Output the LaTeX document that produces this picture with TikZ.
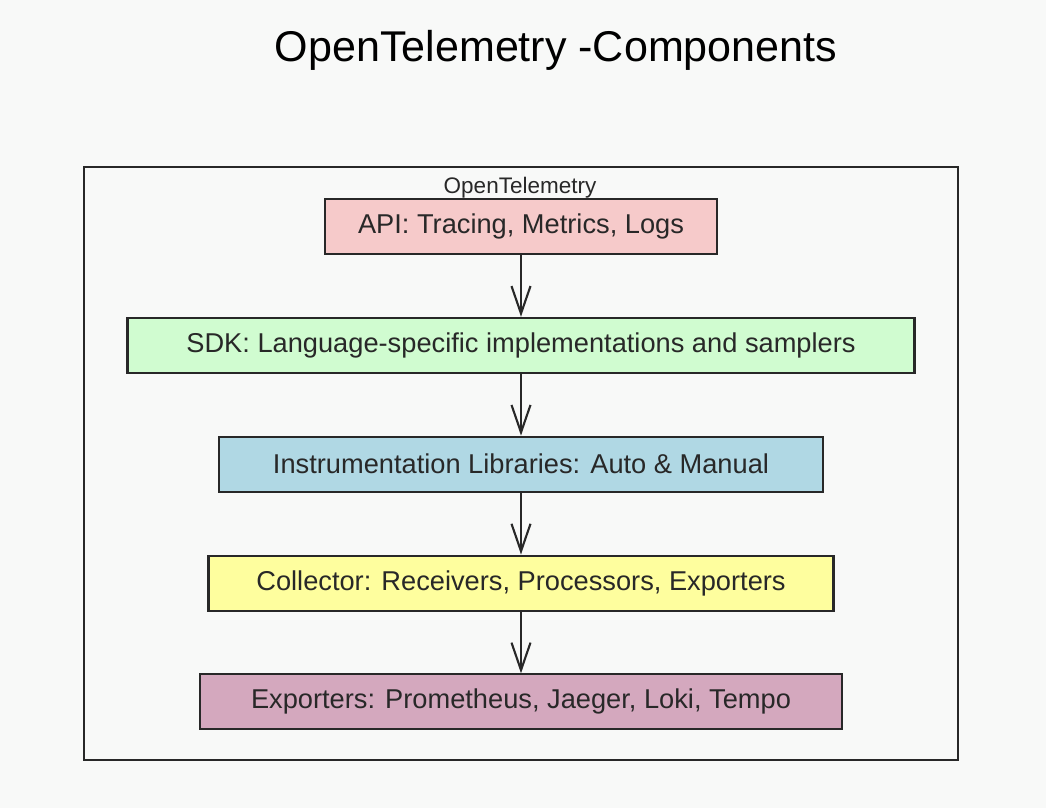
\documentclass[tikz,border=0pt]{standalone}
\usepackage{fontspec}
\setmainfont{Liberation Sans}
\usetikzlibrary{positioning,arrows.meta}

\definecolor{apipink}{RGB}{246,202,202}
\definecolor{sdkgreen}{RGB}{208,252,208}
\definecolor{instblue}{RGB}{176,216,228}
\definecolor{collyellow}{RGB}{254,254,158}
\definecolor{expmauve}{RGB}{212,168,190}
\definecolor{bgpaper}{RGB}{248,249,248}
\definecolor{inkgrey}{RGB}{40,40,40}

\begin{document}
\begin{tikzpicture}[node distance=1.235cm,
                    comp box/.style={draw=inkgrey,line width=1.2pt,minimum height=1.1cm,
                                     font=\fontsize{15.5}{18}\selectfont,text=inkgrey},
                    flow/.style={draw=inkgrey,line width=1.2pt,-{Straight Barb[length=5.5mm,width=3.8mm]}}]

  \fill[bgpaper] (0,0) rectangle (20.92,16.16);
  \useasboundingbox (0,0) rectangle (20.92,16.16);

  \node (title) at (11.12,15.15) {\fontsize{24.5}{28}\selectfont OpenTelemetry -Components};

  \draw[inkgrey,line width=1.1pt] (1.68,0.96) rectangle (19.16,12.82);
  \node[text=inkgrey,font=\fontsize{12.8}{15}\selectfont] (frame) at (10.4,12.4) {OpenTelemetry};

  \node[comp box,fill=apipink,minimum width=7.84cm] (api) at (10.42,11.63) {API: Tracing, Metrics, Logs};
  \node[comp box,fill=sdkgreen,minimum width=15.74cm] (sdk) [below=of api] {SDK: Language-specific implementations and samplers};
  \node[comp box,fill=instblue,minimum width=12.08cm] (inst) [below=of sdk] {Instrumentation Libraries: Auto \& Manual};
  \node[comp box,fill=collyellow,minimum width=12.5cm] (coll) [below=of inst] {Collector: Receivers, Processors, Exporters};
  \node[comp box,fill=expmauve,minimum width=12.84cm] (exp) [below=of coll] {Exporters: Prometheus, Jaeger, Loki, Tempo};

  \path[flow]
    (api) edge (sdk)
    (sdk) edge (inst)
    (inst) edge (coll)
    (coll) edge (exp);

\end{tikzpicture}
\end{document}
